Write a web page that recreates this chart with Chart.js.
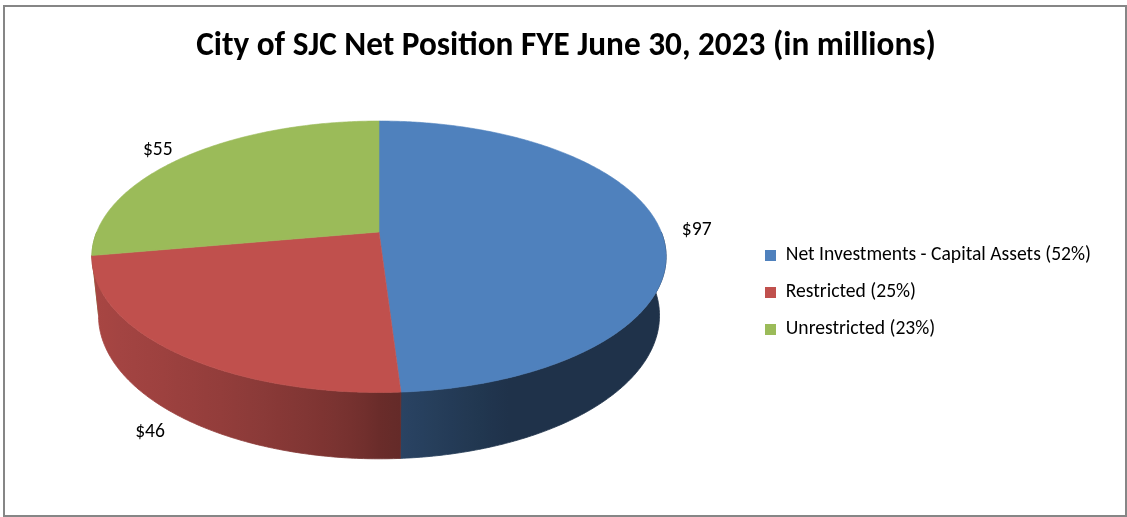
<!DOCTYPE html>
<html>
<head>
<meta charset="utf-8">
<title>City of SJC Net Position</title>
<script src="https://cdn.jsdelivr.net/npm/chart.js@4.4.1/dist/chart.umd.min.js"></script>
<style>
html,body{margin:0;padding:0;background:#ffffff;}
#wrap{width:1127px;height:517px;}
canvas{display:block;}
</style>
</head>
<body>
<div id="wrap"><canvas id="chart" width="1127" height="517"></canvas></div>
<script>
// ---------------- data ----------------
const chartTitle = 'City of SJC Net Position FYE June 30, 2023 (in millions)';
const categories = ['Net Investments - Capital Assets (52%)', 'Restricted (25%)', 'Unrestricted (23%)'];
const values = [97, 46, 55];
const valuePrefix = '$';
const sliceColors = ['#4F81BD', '#C0504D', '#9BBB59'];

// ---------------- style ----------------
const FONT_FAMILY = 'Carlito, Calibri, Lato, "Open Sans", sans-serif';
const TEXT_COLOR = '#000000';
const BORDER_COLOR = '#868686';
const VIEW = { elevationDeg: 27.7, distance: 4.855, thickness: 0.2376, stretch: 1.26, dy: -59, labelRadius: 1.08, labelDy: 3 };
const LEGEND_SHIFT = 35; // push legend rows down from the vertical centre

const mctx = document.createElement('canvas').getContext('2d');
function textWidth(t, font) { mctx.font = font; return mctx.measureText(t).width; }
function fitFont(text, weight, target, base) {
  const w = textWidth(text, weight + ' ' + base + 'px ' + FONT_FAMILY);
  return Math.max(base * 0.8, Math.min(base * 1.05, base * target / w));
}

const titleSize = fitFont(chartTitle, 'bold', 740, 32);
const labelSize = fitFont(categories[0], 'normal', 321, 18.67);
const boxSize = 11;
const rowGap = 37 - labelSize;
const legendTextW = Math.max(...categories.map(c => textWidth(c, 'normal ' + labelSize + 'px ' + FONT_FAMILY)));
const legendItemW = boxSize + labelSize / 2 + legendTextW;
const legendBoxX = 765;
const padRight = Math.max(0, 1127 - legendBoxX - legendItemW - 10);
const padLeft = 2 * 566 - 1127 + padRight;             // centres the title at x = 566
const areaCenterX = (padLeft + legendBoxX - rowGap) / 2;
const viewDx = 379 - areaCenterX;
const titleTopPad = 47 - 0.6 * titleSize;
const titleBottom = titleTopPad + 1.2 * titleSize;
const padBottom = Math.max(0, titleBottom - 65);

function hexToRgb(h) {
  const n = parseInt(h.slice(1), 16);
  return [(n >> 16) & 255, (n >> 8) & 255, n & 255];
}
function shadeFor(X) {
  if (X <= 0) return 0.55 + 0.32 * Math.pow(-X, 0.7);
  return 0.55 - 0.16 * Math.min(1, X / 0.45);
}
function shadeColor(hex, f) {
  const c = hexToRgb(hex).map(v => Math.max(0, Math.min(255, Math.round(v * f))));
  return 'rgb(' + c[0] + ',' + c[1] + ',' + c[2] + ')';
}

function makeProjection(arc) {
  const E = VIEW.elevationDeg * Math.PI / 180;
  const sinE = Math.sin(E), cosE = Math.cos(E);
  const b = arc.outerRadius * VIEW.stretch;
  const D = VIEW.distance, F = b * D;
  const cx = arc.x + viewDx, cy = arc.y + VIEW.dy;
  const fn = (X, Z, h) => {
    const depth = D - Z * cosE + h * sinE;
    return [cx + F * X / depth, cy + F * (Z * sinE + h * cosE) / depth];
  };
  fn.cx = cx; fn.cy = cy; fn.b = b;
  return fn;
}

const pie3d = {
  id: 'pie3d',
  beforeDraw(chart) {
    const ctx = chart.ctx;
    ctx.save();
    ctx.fillStyle = '#ffffff';
    ctx.fillRect(0, 0, chart.width, chart.height);
    ctx.strokeStyle = BORDER_COLOR;
    ctx.lineWidth = 2;
    ctx.strokeRect(4, 6, chart.width - 5, chart.height - 7);
    ctx.restore();
  },
  beforeDatasetsDraw(chart) {
    const meta = chart.getDatasetMeta(0);
    const arcs = meta.data;
    if (!arcs.length) return false;
    const P = makeProjection(arcs[0]);
    const ctx = chart.ctx;
    const step = 0.01;
    const T = VIEW.thickness;
    ctx.save();

    // outer walls (front half only), far ones first
    const walls = [];
    arcs.forEach((arc, i) => {
      const a0 = Math.max(arc.startAngle, 0), a1 = Math.min(arc.endAngle, Math.PI);
      if (a1 > a0) walls.push({ i, a0, a1, z: (Math.sin(a0) + Math.sin(a1) + Math.sin((a0 + a1) / 2)) / 3 });
    });
    walls.sort((p, q) => p.z - q.z);
    const xL = P.cx - 1.02 * P.b, xR = P.cx + 1.02 * P.b;
    walls.forEach(w => {
      const base = sliceColors[w.i];
      const g = ctx.createLinearGradient(xL, 0, xR, 0);
      for (let k = 0; k <= 40; k++) {
        const u = k / 40;
        const X = -1.02 + 2.04 * u;
        g.addColorStop(u, shadeColor(base, shadeFor(X)));
      }
      ctx.beginPath();
      let first = true;
      for (let t = w.a0; ; t += step) {
        if (t > w.a1) t = w.a1;
        const p = P(Math.cos(t), Math.sin(t), 0);
        if (first) { ctx.moveTo(p[0], p[1]); first = false; } else ctx.lineTo(p[0], p[1]);
        if (t >= w.a1) break;
      }
      for (let t = w.a1; ; t -= step) {
        if (t < w.a0) t = w.a0;
        const p = P(Math.cos(t), Math.sin(t), T);
        ctx.lineTo(p[0], p[1]);
        if (t <= w.a0) break;
      }
      ctx.closePath();
      ctx.fillStyle = g;
      ctx.fill();
      ctx.strokeStyle = g;
      ctx.lineWidth = 0.8;
      ctx.stroke();
    });

    // top faces
    arcs.forEach((arc, i) => {
      ctx.beginPath();
      const c = P(0, 0, 0);
      ctx.moveTo(c[0], c[1]);
      for (let t = arc.startAngle; ; t += step) {
        if (t > arc.endAngle) t = arc.endAngle;
        const p = P(Math.cos(t), Math.sin(t), 0);
        ctx.lineTo(p[0], p[1]);
        if (t >= arc.endAngle) break;
      }
      ctx.closePath();
      ctx.fillStyle = sliceColors[i];
      ctx.fill();
      ctx.strokeStyle = sliceColors[i];
      ctx.lineWidth = 0.6;
      ctx.stroke();
    });

    // value labels (outside end): anchor just beyond the rim, box pushed outward
    ctx.fillStyle = TEXT_COLOR;
    ctx.font = 'normal ' + labelSize + 'px ' + FONT_FAMILY;
    ctx.textAlign = 'center';
    ctx.textBaseline = 'middle';
    arcs.forEach((arc, i) => {
      const text = valuePrefix + values[i];
      const mid = (arc.startAngle + arc.endAngle) / 2;
      const X = Math.cos(mid) * VIEW.labelRadius, Z = Math.sin(mid) * VIEW.labelRadius;
      const h = Z > 0.5 ? T * 0.9 : 0;
      const p = P(X, Z, h);
      let ux = p[0] - P.cx, uy = p[1] - P.cy;
      const len = Math.hypot(ux, uy) || 1;
      ux /= len; uy /= len;
      const w = ctx.measureText(text).width;
      ctx.fillText(text, p[0] + ux * w / 2, p[1] + uy * labelSize / 2 + VIEW.labelDy);
    });
    ctx.restore();
    return false;
  }
};

new Chart(document.getElementById('chart'), {
  type: 'pie',
  data: {
    labels: categories,
    datasets: [{
      data: values,
      backgroundColor: sliceColors,
      borderColor: sliceColors,
      borderWidth: 0
    }]
  },
  options: {
    responsive: false,
    animation: false,
    devicePixelRatio: 1,
    events: [],
    rotation: 0,
    layout: { padding: { left: padLeft, right: padRight, top: 0, bottom: padBottom } },
    plugins: {
      title: {
        display: true,
        text: chartTitle,
        color: TEXT_COLOR,
        font: { family: FONT_FAMILY, size: titleSize, weight: 'bold' },
        padding: { top: titleTopPad, bottom: 0 }
      },
      legend: {
        display: true,
        position: 'right',
        align: 'center',
        title: {
          display: true,
          text: ' ',
          font: { family: FONT_FAMILY, size: 10 },
          padding: { top: 2 * LEGEND_SHIFT - 12, bottom: 0 }
        },
        labels: {
          color: TEXT_COLOR,
          font: { family: FONT_FAMILY, size: labelSize },
          boxWidth: boxSize,
          boxHeight: boxSize,
          padding: rowGap
        }
      },
      tooltip: { enabled: false }
    }
  },
  plugins: [pie3d]
});
</script>
</body>
</html>
